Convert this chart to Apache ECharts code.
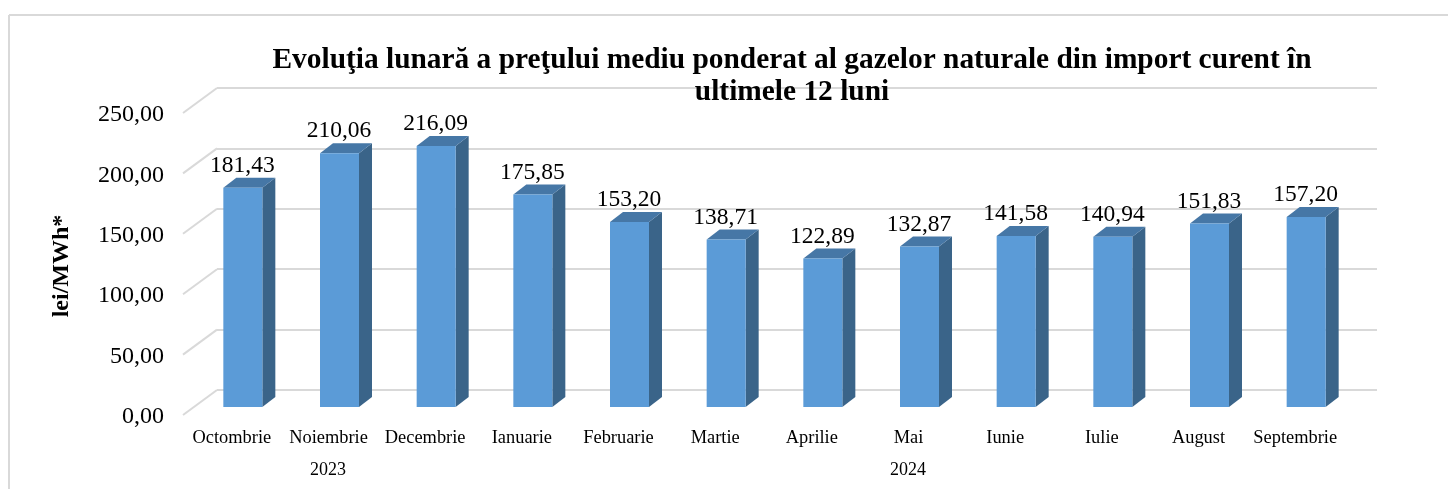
<!DOCTYPE html>
<html>
<head>
<meta charset="utf-8">
<style>
html, body { margin: 0; padding: 0; background: #fff; }
#chart-main { width: 1448px; height: 489px; }
</style>
<script src="https://cdn.jsdelivr.net/npm/echarts@6/dist/echarts.min.js"></script>
</head>
<body>
<div id="chart-main"></div>
<script>
const months = ['Octombrie', 'Noiembrie', 'Decembrie', 'Ianuarie', 'Februarie', 'Martie', 'Aprilie', 'Mai', 'Iunie', 'Iulie', 'August', 'Septembrie'];
const prices = [181.43, 210.06, 216.09, 175.85, 153.20, 138.71, 122.89, 132.87, 141.58, 140.94, 151.83, 157.20];
const years = ['2023', '2024'];
const yearFirstMonth = [0, 3];
const yearLastMonth = [2, 11];
const yTicks = [0, 50, 100, 150, 200, 250];

const serif = '"Liberation Serif", "Times New Roman", serif';
const fmt = v => v.toFixed(2).replace('.', ',');

// fake 3D: bars sit in front of the back wall, floor runs towards the viewer
const wallDx = 34, wallDy = 25;
const barLeft = -42, barW = 39, sideDx = 13, sideDy = 10, barDy = 17;

const myChart = echarts.init(document.getElementById('chart-main'), null, { renderer: 'canvas' });

function renderBar(params, api) {
    const idx = api.value(0);
    const base = api.coord([idx, 0]);
    const top = api.coord([idx, api.value(1)]);
    const x0 = base[0] + barLeft, x1 = x0 + barW;
    const yb = base[1] + barDy, yt = top[1] + barDy;
    return {
        type: 'group',
        children: [
            { type: 'polygon', shape: { points: [[x1, yb], [x1 + sideDx, yb - sideDy], [x1 + sideDx, yt - sideDy], [x1, yt]] }, style: { fill: '#3A6489' } },
            { type: 'polygon', shape: { points: [[x0, yt], [x1, yt], [x1 + sideDx, yt - sideDy], [x0 + sideDx, yt - sideDy]] }, style: { fill: '#4677A6' } },
            { type: 'rect', shape: { x: x0, y: yt, width: barW, height: yb - yt }, style: { fill: '#5B9BD7' } },
            { type: 'text', style: { text: fmt(api.value(1)), x: x0 + 19, y: yt - 22, align: 'center', verticalAlign: 'middle', font: '23.5px ' + serif, fill: '#000' } }
        ]
    };
}

function renderWallTick(params, api) {
    const p = api.coord([0, api.value(0)]);
    const x = params.coordSys.x, y = p[1];
    return {
        type: 'group',
        children: [
            { type: 'line', shape: { x1: x - wallDx, y1: y + wallDy, x2: x, y2: y }, style: { stroke: '#D9D9D9', lineWidth: 2 } },
            { type: 'text', style: { text: fmt(api.value(0)), x: x - 53, y: y + 27, align: 'right', verticalAlign: 'middle', font: '24px ' + serif, fill: '#000' } }
        ]
    };
}

function renderYear(params, api) {
    const a = api.coord([api.value(0), 0]);
    const b = api.coord([api.value(1), 0]);
    return { type: 'text', style: { text: api.value(2), x: (a[0] + b[0]) / 2 - 34, y: a[1] + 80, align: 'center', verticalAlign: 'middle', font: '18px ' + serif, fill: '#000' } };
}

myChart.setOption({
    backgroundColor: '#fff',
    animation: false,
    title: {
        text: 'Evoluţia lunară a preţului mediu ponderat al gazelor naturale din import curent în\nultimele 12 luni',
        left: 787, top: 39, textAlign: 'center',
        textStyle: { fontFamily: serif, fontSize: 29.4, fontWeight: 'bold', color: '#000', lineHeight: 32 }
    },
    graphic: [
        { type: 'line', shape: { x1: 9, y1: 15, x2: 1448, y2: 15 }, style: { stroke: '#D9D9D9', lineWidth: 2 } },
        { type: 'line', shape: { x1: 9, y1: 15, x2: 9, y2: 489 }, style: { stroke: '#D9D9D9', lineWidth: 2 } },
        { type: 'text', rotation: Math.PI / 2, x: 62, y: 266, style: { text: 'lei/MWh*', align: 'center', verticalAlign: 'middle', font: 'bold 24px ' + serif, fill: '#000' } }
    ],
    grid: { left: 217, right: 71, top: 88, height: 302 },
    xAxis: {
        type: 'category', data: months,
        axisLine: { show: false }, axisTick: { show: false },
        axisLabel: { interval: 0, margin: 39, padding: [0, 67, 0, 0], fontFamily: serif, fontSize: 18.4, color: '#000' }
    },
    yAxis: {
        type: 'value', min: 0, max: 250, interval: 50,
        axisLine: { show: false }, axisTick: { show: false }, axisLabel: { show: false },
        splitLine: { show: true, lineStyle: { color: '#D9D9D9', width: 2 } }
    },
    series: [
        { type: 'custom', data: yTicks.map(v => [v]), encode: { y: 0 }, renderItem: renderWallTick, silent: true, z: 1 },
        { type: 'custom', data: prices.map((v, i) => [i, v]), encode: { x: 0, y: 1 }, renderItem: renderBar, z: 3 },
        { type: 'custom', data: years.map((y, i) => [yearFirstMonth[i], yearLastMonth[i], y]), dimensions: ['a', 'b', { name: 'y', type: 'ordinal' }], encode: { x: [0, 1] }, renderItem: renderYear, silent: true, z: 3 }
    ]
});
</script>
</body>
</html>
